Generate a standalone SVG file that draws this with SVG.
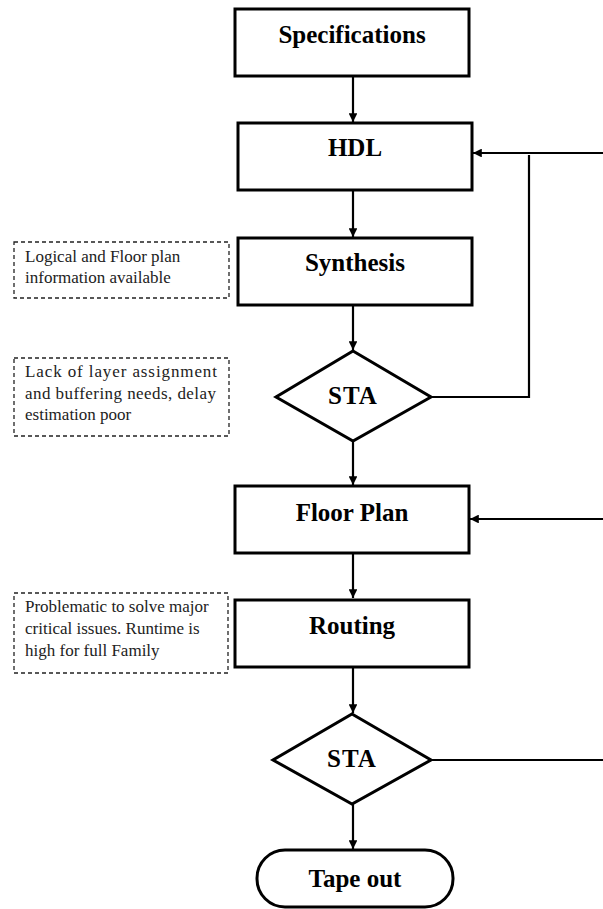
<svg xmlns="http://www.w3.org/2000/svg" width="603" height="909" viewBox="0 0 603 909">
  <style>
    .box { fill: #fff; stroke: #000; stroke-width: 3; }
    .note { fill: none; stroke: #222; stroke-width: 1.3; stroke-dasharray: 4 3; }
    .label { font-family: "Liberation Serif", "Times New Roman", serif; font-weight: bold; font-size: 25px; fill: #000; text-anchor: middle; }
    .ntext { font-family: "Liberation Serif", "Times New Roman", serif; font-size: 17px; fill: #222; }
    .wire { fill: none; stroke: #000; stroke-width: 2.2; }
  </style>
  <defs>
    <marker id="arrow" viewBox="0 0 10 10" refX="10" refY="5" markerWidth="4" markerHeight="4" orient="auto" markerUnits="strokeWidth">
      <path d="M0,0 L10,5 L0,10 z" fill="#000"/>
    </marker>
  </defs>

  <rect width="603" height="909" fill="#fff"/>

  <!-- connectors -->
  <g id="connectors">
    <line class="wire" x1="353" y1="76" x2="353" y2="122" marker-end="url(#arrow)"/>
    <line class="wire" x1="353" y1="190" x2="353" y2="237" marker-end="url(#arrow)"/>
    <line class="wire" x1="353" y1="305" x2="353" y2="350" marker-end="url(#arrow)"/>
    <line class="wire" x1="353" y1="441" x2="353" y2="485" marker-end="url(#arrow)"/>
    <line class="wire" x1="353" y1="553" x2="353" y2="598" marker-end="url(#arrow)"/>
    <line class="wire" x1="353" y1="667" x2="353" y2="713" marker-end="url(#arrow)"/>
    <line class="wire" x1="353" y1="804" x2="353" y2="849" marker-end="url(#arrow)"/>
    <!-- feedback into HDL -->
    <line class="wire" x1="603" y1="153" x2="473" y2="153" marker-end="url(#arrow)"/>
    <polyline class="wire" points="431,397 529,397 529,155"/>
    <!-- feedback into Floor Plan -->
    <line class="wire" x1="603" y1="519" x2="470" y2="519" marker-end="url(#arrow)"/>
    <!-- second STA exit -->
    <line class="wire" x1="431" y1="760" x2="603" y2="760"/>
  </g>

  <g id="specifications">
    <rect class="box" x="235" y="9" width="234" height="67"/>
    <text class="label" x="352" y="43">Specifications</text>
  </g>

  <g id="hdl">
    <rect class="box" x="238" y="123" width="234" height="67"/>
    <text class="label" x="355" y="156">HDL</text>
  </g>

  <g id="synthesis">
    <rect class="box" x="238" y="238" width="234" height="67"/>
    <text class="label" x="355" y="271">Synthesis</text>
  </g>

  <g id="sta1">
    <polygon class="box" points="353,351 431,397 353,441 276,397" stroke-width="2.6"/>
    <text class="label" x="353" y="404" letter-spacing="1">STA</text>
  </g>

  <g id="floorplan">
    <rect class="box" x="235" y="486" width="234" height="67"/>
    <text class="label" x="352" y="521">Floor Plan</text>
  </g>

  <g id="routing">
    <rect class="box" x="235" y="600" width="234" height="67"/>
    <text class="label" x="352" y="634">Routing</text>
  </g>

  <g id="sta2">
    <polygon class="box" points="352,714 431,760 352,804 273,760" stroke-width="2.6"/>
    <text class="label" x="352" y="767" letter-spacing="1">STA</text>
  </g>

  <g id="tapeout">
    <rect class="box" x="257" y="850" width="196" height="57" rx="28" ry="28" stroke-width="2.4"/>
    <text class="label" x="355" y="887">Tape out</text>
  </g>

  <g id="note-synthesis">
    <rect class="note" x="14" y="242" width="215" height="56"/>
    <text class="ntext" x="25" y="262">Logical and Floor plan</text>
    <text class="ntext" x="25" y="283">information available</text>
  </g>

  <g id="note-sta">
    <rect class="note" x="14" y="358" width="215" height="78"/>
    <text class="ntext" x="25" y="377" textLength="192" lengthAdjust="spacing">Lack of layer assignment</text>
    <text class="ntext" x="25" y="399" textLength="191" lengthAdjust="spacing">and buffering needs, delay</text>
    <text class="ntext" x="25" y="420">estimation poor</text>
  </g>

  <g id="note-routing">
    <rect class="note" x="14" y="593" width="214" height="80"/>
    <text class="ntext" x="25" y="612">Problematic to solve major</text>
    <text class="ntext" x="25" y="634">critical issues. Runtime is</text>
    <text class="ntext" x="25" y="656">high for full Family</text>
  </g>
</svg>
